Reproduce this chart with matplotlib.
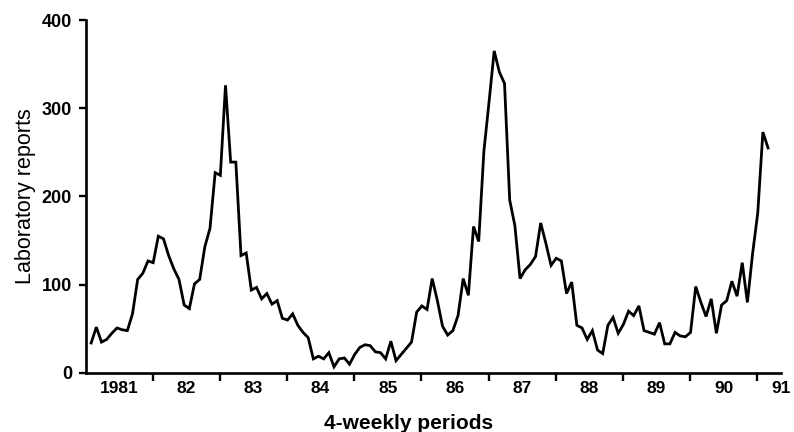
import matplotlib
matplotlib.use('Agg')
import matplotlib.pyplot as plt
import numpy as np

plt.rcParams['font.family'] = ['Liberation Sans', 'DejaVu Sans']

# laboratory reports per 4-weekly period, 1981 onwards
reports_1981_83 = [34, 52, 35, 38, 45, 51, 49, 48, 67, 106, 113, 127, 125,
                   155, 152, 133, 118, 106, 77, 73, 101, 106, 143, 164, 227, 224,
                   326, 239, 239, 133, 136, 94, 97, 84, 90, 78, 82, 62, 60]
reports_1984_86 = [67, 54, 46, 40, 16, 19, 16, 23, 7, 16, 17, 10, 21,
                   29, 32, 31, 24, 23, 16, 36, 14, 21, 28, 35, 69, 76,
                   72, 107, 82, 53, 43, 48, 65, 107, 88, 166, 149, 251, 307]
reports_1987_91 = [365, 341, 328, 196, 167, 107, 117, 123, 132, 170, 147, 122, 130,
                   127, 90, 103, 54, 51, 38, 48, 26, 22, 54, 63, 45, 55,
                   70, 65, 76, 48, 46, 44, 57, 33, 33, 46, 42, 41, 46,
                   98, 80, 64, 84, 45, 77, 82, 104, 87, 125, 80, 135, 181,
                   273, 255]

year_labels = ['1981', '82', '83', '84', '85', '86', '87', '88', '89', '90', '91']
y_ticks = [0, 100, 200, 300, 400]


def plot_reports():
    reports = np.array(reports_1981_83 + reports_1984_86 + reports_1987_91)
    periods = np.arange(len(reports))

    fig = plt.figure(figsize=(7.94, 4.32), dpi=100)
    ax = fig.add_axes([0.1083, 0.1366, 0.8753, 0.8171])

    ax.plot(periods, reports, color='black', linewidth=2.0, solid_joinstyle='miter')

    ax.set_xlim(-1.0, 131.3)
    ax.set_ylim(0, 400)

    for side in ['top', 'right']:
        ax.spines[side].set_visible(False)
    for side in ['left', 'bottom']:
        ax.spines[side].set_linewidth(1.9)

    # year boundaries get the tick marks, labels sit between them
    first_boundary = 11.9
    boundaries = first_boundary + 13 * np.arange(len(year_labels) - 1)
    label_pos = list(boundaries - 6.5) + [boundaries[-1] + 4.6]
    ax.set_xticks(boundaries)
    ax.set_xticklabels([])
    ax.set_xticks(label_pos, minor=True)
    ax.set_xticklabels(year_labels, minor=True, fontsize=12.5, fontweight='bold')
    ax.tick_params(axis='x', which='major', direction='out', length=6, width=1.7)
    ax.tick_params(axis='x', which='minor', length=0, pad=6)

    ax.set_yticks(y_ticks)
    ax.set_yticklabels([str(v) for v in y_ticks], fontsize=13, fontweight='bold')
    ax.tick_params(axis='y', direction='out', length=5, width=1.7, pad=5)

    fig.text(0.0315, 0.545, 'Laboratory reports', rotation=90, fontsize=15.5,
             ha='center', va='center')
    fig.text(0.514, 0.02, '4-weekly periods', fontsize=15, fontweight='bold',
             ha='center', va='center')

    plt.savefig('out.png', dpi=100)
    plt.close(fig)


if __name__ == "__main__":
    plot_reports()
